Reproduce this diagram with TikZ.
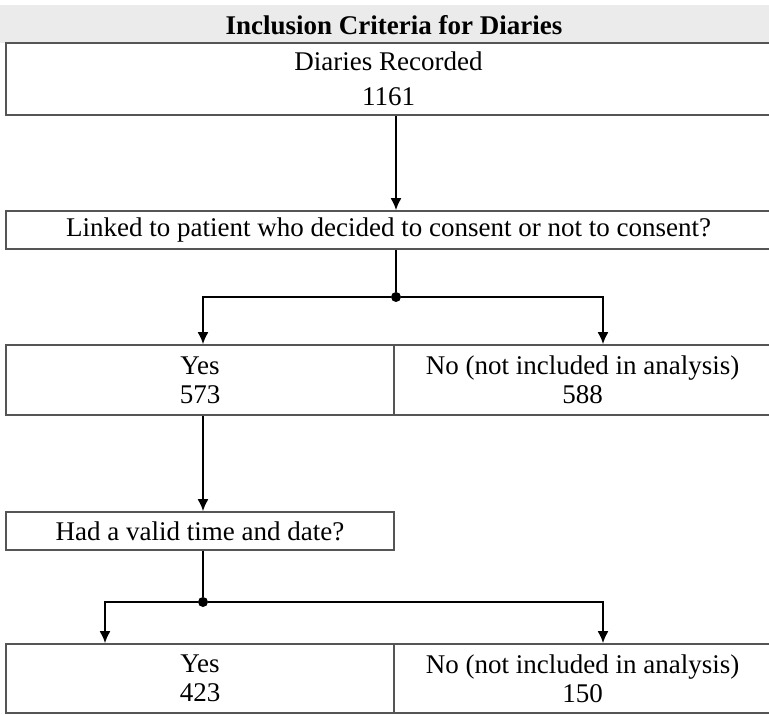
\documentclass[tikz,border=0pt]{standalone}
\usepackage{fontspec}
\setmainfont{Liberation Serif}
\usetikzlibrary{arrows.meta,positioning}
\definecolor{boxgray}{HTML}{555555}
\definecolor{bandgray}{HTML}{EBEBEB}

\begin{document}
\begin{tikzpicture}[x=0.5pt,y=-0.5pt,>={Latex[length=6pt,width=5.5pt]},
font=\fontsize{13.5}{14.5}\selectfont,
box/.style={draw=boxgray,line width=0.8pt,rectangle,align=center,inner sep=0pt,minimum height=19pt},
wide/.style={box,minimum width=382.5pt},
left/.style={box,minimum width=194pt},
right/.style={box,minimum width=188.5pt},
arrow/.style={->,line width=1pt},
link/.style={line width=1pt},
junction/.style={circle,fill=black,inner sep=0pt,minimum size=5pt}]
\useasboundingbox (0,0) rectangle (769,715);
\fill[bandgray] (0,5) rectangle (769,43);
\node[font=\fontsize{13.5}{14.5}\selectfont\bfseries] (title) at (394,25) {Inclusion Criteria for Diaries};
\node[wide,minimum height=36pt] (rec) at (388.5,79) {Diaries Recorded\\[3pt]1161};
\node[wide] (linked) at (388.5,230) {Linked to patient who decided to consent or not to consent?};
\node[left,minimum height=35pt] (yes1) at (200,380) {Yes\\573};
\node[right,minimum height=35pt] (no1) at (582.5,380) {No (not included in analysis)\\588};
\node[left] (valid) at (200,531) {Had a valid time and date?};
\node[left,minimum height=34.5pt] (yes2) at (200,678.5) {Yes\\423};
\node[right,minimum height=34.5pt] (no2) at (582.5,678.5) {No (not included in analysis)\\150};
% branch points
\node[junction] (j1) at (396,297) {};
\node[junction] (j2) at (203,602) {};
\coordinate (l1) at (203,0);
\coordinate (r1) at (603,0);
\coordinate (l2) at (105,0);
\draw[arrow] (rec.south -| j1) -- (linked.north -| j1);
\draw[link] (linked.south -| j1) -- (j1);
\draw[arrow] (j1) -| (l1 |- yes1.north);
\draw[arrow] (j1) -| (r1 |- no1.north);
\draw[arrow] (yes1.south -| j2) -- (valid.north -| j2);
\draw[link] (valid.south -| j2) -- (j2);
\draw[arrow] (j2) -| (l2 |- yes2.north);
\draw[arrow] (j2) -| (r1 |- no2.north);
\end{tikzpicture}
\end{document}
